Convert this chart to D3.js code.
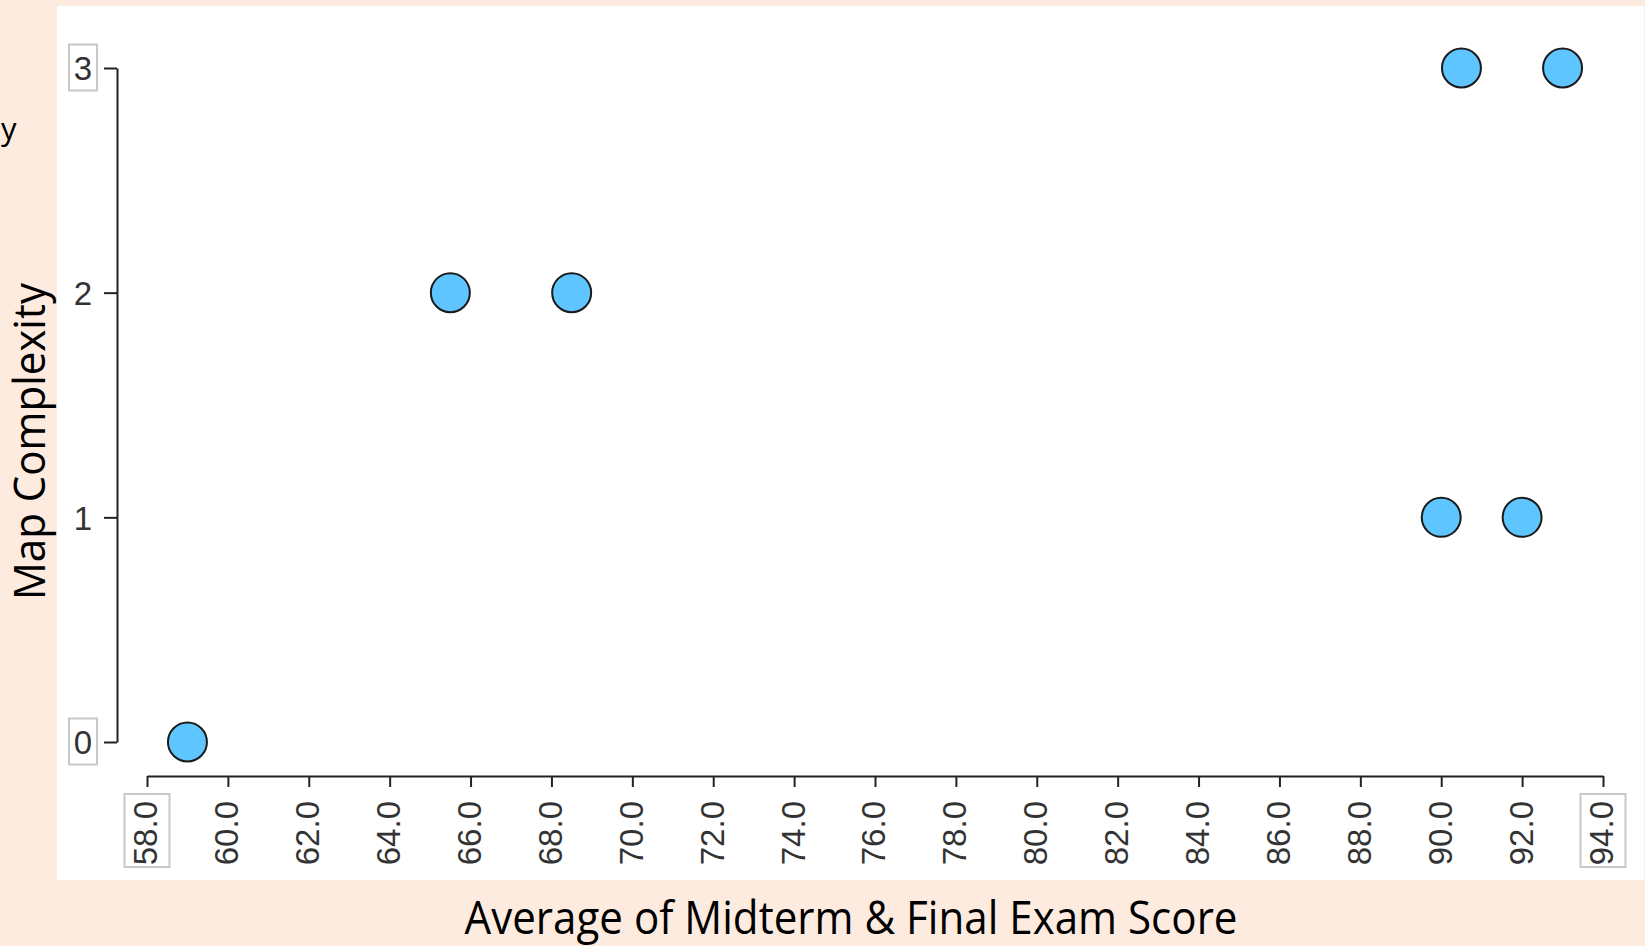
<!DOCTYPE html>
<html><head><meta charset="utf-8">
<script src="https://cdn.jsdelivr.net/npm/d3@7"></script>
<style>
html,body{margin:0;padding:0;background:#FDEBDF;}
svg{display:block;}
</style></head>
<body>
<script>
const xValues = [59, 65.5, 68.5, 90, 92, 90.5, 93];
const yValues = [0, 2, 2, 1, 1, 3, 3];
const xTicks = [58,60,62,64,66,68,70,72,74,76,78,80,82,84,86,88,90,92,94];
const yTicks = [0,1,2,3];
const xTitle = "Average of Midterm & Final Exam Score";
const yTitle = "Map Complexity";

const W = 1645, H = 946;
const svg = d3.select("body").append("svg").attr("width", W).attr("height", H);
svg.append("rect").attr("width", W).attr("height", H).attr("fill", "#FDEBDF");
svg.append("rect").attr("x", 57).attr("y", 6).attr("width", 1587).attr("height", 874).attr("fill", "#fff");

const x = d3.scaleLinear().domain([58, 94]).range([147, 1603]);
const y = d3.scaleLinear().domain([0, 3]).range([742, 68]);

// Y axis
const ya = svg.append("g").attr("transform", "translate(117,0)")
  .call(d3.axisLeft(y).tickValues(yTicks).tickSize(13).tickSizeOuter(0).tickPadding(20).tickFormat(d3.format("d")));
ya.select(".domain").attr("stroke", "#222").attr("stroke-width", 2);
ya.selectAll(".tick line").attr("stroke", "#222").attr("stroke-width", 2);
ya.selectAll(".tick text").attr("font-family", "Liberation Sans, Arial, sans-serif")
  .attr("font-size", 33).attr("fill", "#333").attr("text-anchor", "middle").attr("x", -34).attr("dy", "0.36em");
ya.selectAll(".tick").filter(d => d === 0 || d === 3).insert("rect", "text")
  .attr("x", -48).attr("y", -24).attr("width", 28).attr("height", 46)
  .attr("fill", "none").attr("stroke", "#c8c8c8").attr("stroke-width", 2);

// X axis
const xa = svg.append("g").attr("transform", "translate(0,776)")
  .call(d3.axisBottom(x).tickValues(xTicks).tickSize(11).tickSizeOuter(0).tickFormat(d3.format(".1f")));
xa.select(".domain").attr("stroke", "#222").attr("stroke-width", 2);
xa.selectAll(".tick line").attr("stroke", "#222").attr("stroke-width", 2);
xa.selectAll(".tick text").attr("font-family", "Liberation Sans, Arial, sans-serif")
  .attr("font-size", 33).attr("fill", "#333")
  .attr("transform", "rotate(-90)").attr("text-anchor", "end")
  .attr("x", -25).attr("y", -2).attr("dy", "0.36em");
xa.selectAll(".tick").filter(d => d === 58 || d === 94).insert("rect", "text")
  .attr("x", -23).attr("y", 18).attr("width", 45).attr("height", 73)
  .attr("fill", "none").attr("stroke", "#c8c8c8").attr("stroke-width", 2);

// Points
svg.append("g").selectAll("circle").data(xValues.map((v, i) => [v, yValues[i]])).join("circle")
  .attr("cx", d => x(d[0])).attr("cy", d => y(d[1])).attr("r", 19.5)
  .attr("fill", "#5EC5FF").attr("stroke", "#1a1a1a").attr("stroke-width", 2);

// Titles
svg.append("text").attr("x", 851).attr("y", 934).attr("text-anchor", "middle")
  .attr("font-family", "Open Sans, sans-serif").attr("font-size", 45).attr("fill", "#000")
  .attr("textLength", 773).attr("lengthAdjust", "spacingAndGlyphs").text(xTitle);
svg.append("text").attr("transform", "translate(45,441.5) rotate(-90)").attr("text-anchor", "middle")
  .attr("font-family", "Open Sans, sans-serif").attr("font-size", 43).attr("fill", "#000")
  .attr("textLength", 317).attr("lengthAdjust", "spacingAndGlyphs").text(yTitle);
svg.append("text").attr("x", 1).attr("y", 140)
  .attr("font-family", "Open Sans, sans-serif").attr("font-size", 31).attr("fill", "#000").text("y");
</script>
</body></html>
